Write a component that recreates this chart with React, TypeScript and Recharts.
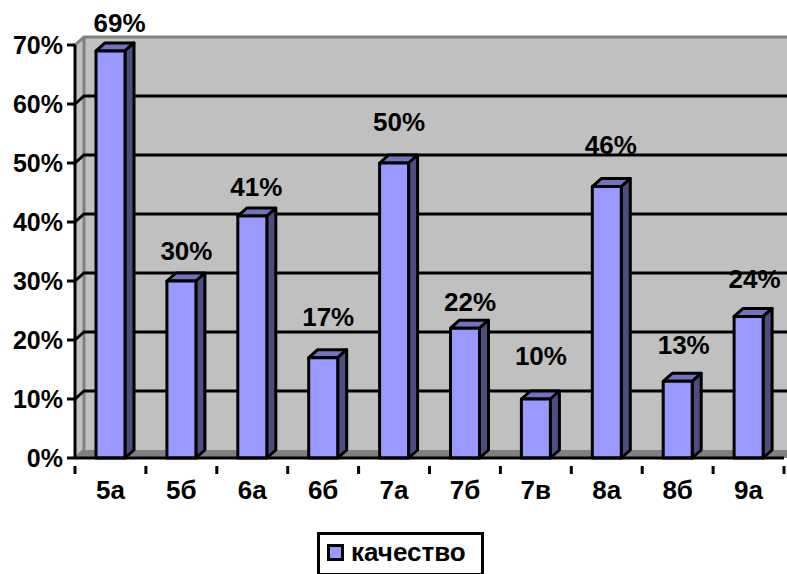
import React from 'react';
import { BarChart, Bar, XAxis, YAxis, CartesianGrid, Legend, LabelList, usePlotArea } from 'recharts';

const categories = ['5а', '5б', '6а', '6б', '7а', '7б', '7в', '8а', '8б', '9а'];
const quality = [69, 30, 41, 17, 50, 22, 10, 46, 13, 24];
const yTicks = [0, 10, 20, 30, 40, 50, 60, 70];
const gridValues = [10, 20, 30, 40, 50, 60];
// the labels were dragged around by hand in the original
const labelLift = [28, 30, 29, 41, 41, 26, 43, 42, 36, 37];
const labelShift = [9, 5, 4, 5, 5, 5, 5, 4, 6, 6];

const chartData = categories.map((name, i) => ({ name, value: quality[i] }));

const DX = 9;
const DY = 8;
const FONT = '"Liberation Sans", Arial, sans-serif';
const LINE = 3;

const Wall = () => {
  const plot = usePlotArea();
  if (!plot) return null;
  const { x, y, width, height } = plot;
  const r = x + width + 3;
  const b = y + height;
  return (
    <g>
      <rect x={x + DX} y={y - DY} width={r - x - DX} height={height} fill="#c0c0c0" />
      <polygon points={`${x},${y} ${x + DX},${y - DY} ${x + DX},${b - DY} ${x},${b}`} fill="#c0c0c0" />
      <polygon points={`${x},${b} ${x + DX},${b - DY} ${r},${b - DY} ${r},${b}`} fill="#808080" />
      <polyline
        points={`${x},${y} ${x + DX},${y - DY} ${r},${y - DY}`}
        fill="none"
        stroke="#808080"
        strokeWidth={LINE}
      />
      <polyline points={`${x + DX},${y - DY} ${x + DX},${b - DY} ${x},${b}`} fill="none" stroke="#808080" strokeWidth={LINE} />
    </g>
  );
};

const GridLine = (props: any) => {
  const { x1, x2, y1 } = props;
  return (
    <polyline
      points={`${x1},${y1} ${x1 + DX},${y1 - DY} ${x2 + 3},${y1 - DY}`}
      fill="none"
      stroke="#000"
      strokeWidth={LINE}
    />
  );
};

const Bar3D = (props: any) => {
  const { x, y, width, height } = props;
  const r = x + width;
  const b = y + height;
  return (
    <g stroke="#000" strokeWidth={LINE} strokeLinejoin="round">
      <polygon points={`${x},${y} ${x + DX},${y - DY} ${r + DX},${y - DY} ${r},${y}`} fill="#7373bf" />
      <polygon points={`${r},${y} ${r + DX},${y - DY} ${r + DX},${b - DY} ${r},${b}`} fill="#4d4d80" />
      <rect x={x} y={y} width={width} height={height} fill="#9999ff" />
    </g>
  );
};

const CategoryTick = (props: any) => {
  const { x, y, width, index, visibleTicksCount, payload } = props;
  const band = width / visibleTicksCount;
  return (
    <g>
      <line x1={x - band / 2} x2={x - band / 2} y1={y} y2={y + 8} stroke="#000" strokeWidth={LINE} />
      {index === visibleTicksCount - 1 && (
        <line x1={x + band / 2} x2={x + band / 2} y1={y} y2={y + 8} stroke="#000" strokeWidth={LINE} />
      )}
      <text x={x} y={y + 33} textAnchor="middle" fontFamily={FONT} fontWeight="bold" fontSize={26} fill="#000">
        {payload.value}
      </text>
    </g>
  );
};

const ValueLabel = (props: any) => {
  const { x, y, width, index, value } = props;
  return (
    <text
      x={x + width / 2 + labelShift[index]}
      y={y - labelLift[index] + 9}
      textAnchor="middle"
      fontFamily={FONT}
      fontWeight="bold"
      fontSize={26}
      fill="#000"
    >
      {value}%
    </text>
  );
};

const LegendBox = ({ payload }: any) => (
  <div
    style={{
      boxSizing: 'border-box',
      width: 167,
      height: 44,
      border: '3px solid #000',
      background: '#fff',
      display: 'flex',
      alignItems: 'center',
      paddingLeft: 7,
      paddingBottom: 4,
      fontFamily: FONT,
      fontWeight: 'bold',
      fontSize: 26,
      color: '#000',
    }}
  >
    <span
      style={{
        boxSizing: 'border-box',
        width: 17,
        height: 17,
        border: '3px solid #000',
        background: payload?.[0]?.color,
        marginRight: 7,
      }}
    />
    {payload?.[0]?.value}
  </div>
);

export default function App() {
  return (
    <div style={{ position: 'fixed', left: 0, top: 0, width: 787, height: 574, overflow: 'hidden', background: '#fff' }}>
      <BarChart
        width={787}
        height={574}
        data={chartData}
        barSize={29}
        margin={{ top: 45, right: 3, bottom: 0, left: 0 }}
      >
        <Wall />
        <CartesianGrid vertical={false} horizontal={<GridLine />} horizontalValues={gridValues} zIndex={1} />
        <XAxis
          dataKey="name"
          height={116}
          axisLine={{ stroke: '#000', strokeWidth: LINE }}
          tickLine={false}
          tick={<CategoryTick />}
          interval={0}
        />
        <YAxis
          width={75}
          domain={[0, 70]}
          ticks={yTicks}
          tickFormatter={(v: number) => `${v}%`}
          axisLine={{ stroke: '#000', strokeWidth: LINE }}
          tickLine={{ stroke: '#000', strokeWidth: LINE }}
          tickSize={8}
          tickMargin={4}
          tick={{ fill: '#000', fontFamily: FONT, fontWeight: 'bold', fontSize: 25 }}
          interval={0}
        />
        <Bar dataKey="value" name="качество" fill="#9999ff" shape={<Bar3D />} isAnimationActive={false}>
          <LabelList dataKey="value" content={<ValueLabel />} />
        </Bar>
        <Legend
          layout="horizontal"
          verticalAlign="middle"
          content={<LegendBox />}
          wrapperStyle={{ position: 'absolute', left: 317, top: 532, width: 167 }}
        />
      </BarChart>
    </div>
  );
}
